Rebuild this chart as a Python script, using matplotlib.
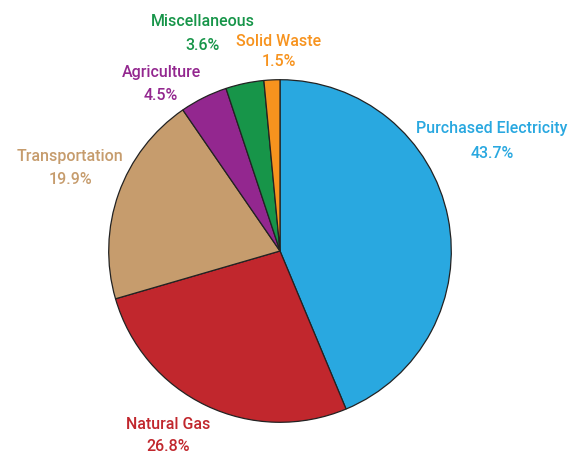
import matplotlib
matplotlib.use("Agg")
import matplotlib.pyplot as plt

categories = ["Purchased Electricity", "Natural Gas", "Transportation",
              "Agriculture", "Miscellaneous", "Solid Waste"]
shares = [43.7, 26.8, 19.9, 4.5, 3.6, 1.5]
colors = ["#29A8E0", "#C1272D", "#C69C6D", "#93278F", "#179549", "#F7931E"]

# label centres in pixels (x from left, y from top) for name / percent lines
label_pos = {
    "Purchased Electricity": (492, 129, 154),
    "Natural Gas": (168, 425, 447),
    "Transportation": (70, 157, 180),
    "Agriculture": (161, 72, 96),
    "Miscellaneous": (203, 21, 45),
    "Solid Waste": (279, 42, 61),
}

W, H = 581, 456
fig = plt.figure(figsize=(W / 100, H / 100), dpi=100)
cx, cy, r = 280, 252, 173
ax = fig.add_axes([(cx - r) / W, (H - cy - r) / H, 2 * r / W, 2 * r / H])
ax.pie(shares, colors=colors, startangle=90, counterclock=False,
       wedgeprops={"edgecolor": "#222222", "linewidth": 0.9})
ax.set_xlim(-1.01, 1.01)
ax.set_ylim(-1.01, 1.01)
ax.set_aspect("equal")
ax.axis("off")

font = ["Roboto", "DejaVu Sans"]
for name, val, col in zip(categories, shares, colors):
    x, y1, y2 = label_pos[name]
    fig.text(x / W, 1 - y1 / H, name, color=col, ha="center", va="center",
             fontsize=11.5, fontweight="medium", family=font, zorder=5)
    fig.text(x / W, 1 - y2 / H, f"{val}%", color=col, ha="center", va="center",
             fontsize=11.5, fontweight="medium", family=font, zorder=5)

fig.savefig("out.png", dpi=100)
